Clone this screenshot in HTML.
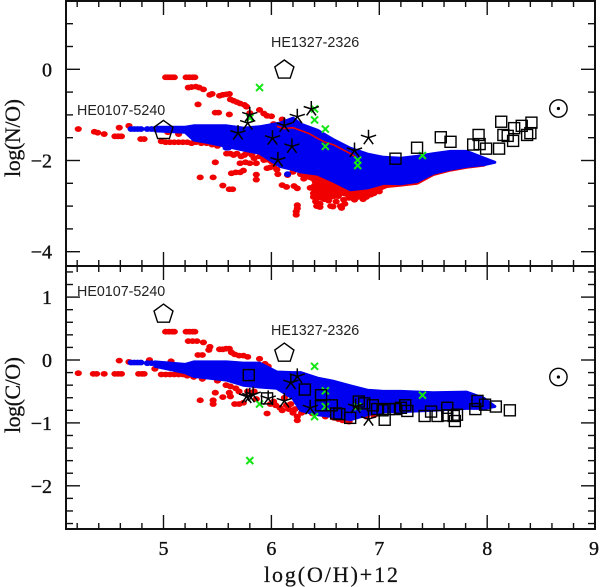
<!DOCTYPE html>
<html>
<head>
<meta charset="utf-8">
<style>
html,body{margin:0;padding:0;background:#fff;width:600px;height:587px;overflow:hidden}
svg{display:block}
.lab{font-family:"Liberation Sans",sans-serif;font-size:14.3px;fill:#222}
.tick{font-family:"Liberation Serif",serif;font-size:20px;fill:#111;stroke:#111;stroke-width:.35px}
.title{font-family:"Liberation Serif",serif;font-size:22px;fill:#111;stroke:#111;stroke-width:.25px}
</style>
</head>
<body>
<svg id="chart" width="600" height="587" viewBox="0 0 600 587" xmlns="http://www.w3.org/2000/svg">
<g id="plot"></g>
<text class="lab" x="271" y="47">HE1327-2326</text>
<text class="lab" x="77" y="115">HE0107-5240</text>
<text class="lab" x="77" y="296">HE0107-5240</text>
<text class="lab" x="271" y="335">HE1327-2326</text>
<text class="title" transform="translate(20,138) rotate(-90)" text-anchor="middle" textLength="78" lengthAdjust="spacing">log(N/O)</text>
<text class="title" transform="translate(20,395) rotate(-90)" text-anchor="middle" textLength="76" lengthAdjust="spacing">log(C/O)</text>
<text class="title" x="331" y="582" text-anchor="middle" textLength="134" lengthAdjust="spacing">log(O/H)+12</text>
</svg>
<script>
// ---- axis tick labels ----
var xTickLabels = [5, 6, 7, 8, 9];
var noTickLabels = [0, -2, -4];
var coTickLabels = [1, 0, -1, -2];

// ---- N/O panel: red model points ----
var noRed = [[5.02,-.175],[5.04,-.175],[5.06,-.175],[5.08,-.175],[5.1,-.175],[5.21,-.175],[5.24,-.175],[5.27,-.175],[5.29,-.175],
[5.23,-.4],[5.26,-.39],[5.3,-.38],[5.33,-.4],[5.37,-.44],[5.43,-.56],[5.45,-.54],[5.52,-.58],[5.55,-.56],[5.58,-.55],[5.61,-.54],
[5.62,-.66],[5.65,-.69],[5.68,-.72],[5.71,-.75],[5.75,-.78],[5.77,-.82],[5.32,-.77],[5.48,-.95],[5.51,-.95],[5.61,-.99],[5.8,-.96],[5.89,-.89],[5.93,-.97],[5.96,-1.02],[6,-1.03],
[4.21,-1.31],[4.36,-1.37],[4.39,-1.39],[4.45,-1.42],[4.59,-1.28],[4.55,-1.47],[4.58,-1.47],[4.61,-1.47],[4.68,-1.24],[4.79,-1.53],[4.82,-1.53],
[4.98,-1.58],[5.02,-1.6],[5.06,-1.6],[5.1,-1.6],[5.14,-1.6],[5.18,-1.6],[5.22,-1.6],[5.26,-1.62],[5.3,-1.6],[5.35,-1.62],[5.4,-1.62],[5.45,-1.65],[5.5,-1.68],[5.04,-1.38],[5.14,-1.42],
[5.48,-2.04],[5.34,-2.37],[5.46,-2.37],[5.55,-2.55],[5.61,-2.63],[5.64,-2.63],[5.63,-2.28],[5.67,-2.26],[5.71,-2.26],[5.74,-2.22],[5.86,-2.31],[5.86,-2.42],
[5.585,-1.85],[5.62,-1.85],[5.65,-1.88],[5.68,-1.85],[5.72,-1.91],[5.75,-1.88],[5.77,-1.84],[5.82,-1.88],[5.86,-2.06],[5.93,-1.99],[5.96,-2.17],[5.99,-2.15],[6.02,-2.13],[6.05,-2.2],[5.71,-2.06],[5.76,-2.04],[5.8,-2.06],[5.89,-1.91],[5.93,-1.9],[5.84,-1.95],[5.96,-1.98],[6,-2.02],
[6.1,-2.54],[6.14,-2.58],[6.21,-2.56],[6.24,-2.61],[6.24,-2.98],[6.24,-3.05],[6.23,-3.12],[6.23,-3.19],[6.06,-2.3],[6.15,-2.32],[6.27,-2.3],[6.2,-2.25],[6.1,-1.1],[6.06,-1.25],[6.02,-1.2],[6.3,-2.4],[6.33,-2.35],
[6.39,-2.72],[6.4,-2.64],[6.4,-2.55],[6.43,-2.62],[6.41,-2.9],[6.42,-3],[6.45,-2.95],[6.46,-2.82],[6.48,-2.72],[6.5,-2.64],[6.51,-2.79],[6.47,-2.55],[6.55,-3],[6.57,-3.01],[6.65,-3.04],[6.64,-3],[6.67,-2.86],[6.7,-2.74],[6.73,-2.72],[6.77,-2.86],[6.8,-2.8],[6.83,-2.79],[6.88,-2.8],[6.92,-2.75],[7,-2.68],
[6.39,-2.8],[6.44,-2.72],[6.45,-3.02],[6.49,-2.85],[6.53,-2.72],[6.53,-2.88],[6.58,-2.78],[6.6,-2.9],[6.62,-2.78],[6.68,-2.95],[6.72,-2.82],[6.75,-2.78],[6.78,-2.8],[6.85,-2.85],[6.95,-2.72],[6.43,-2.8],[6.36,-2.6],[6.55,-2.8]];
var noRedEnvelopeX = [6.27,6.38,6.42,6.55,6.67,6.89,7,7.07,7.2,7.35,7.5,7.66,7.81,7.97];
var noRedEnvelopeUpper = [-2.1,-2.2,-2.2,-2.3,-2.4,-2.4,-2.3,-2.3,-2.3,-2.3,-2.15,-2.1,-2.05,-2.05];
var noRedEnvelopeLower = [-2.32,-2.42,-2.62,-2.68,-2.75,-2.78,-2.64,-2.57,-2.54,-2.5,-2.31,-2.21,-2.15,-2.1];
var noRedStreak = [[6.05,-1.25],[6.12,-1.3],[6.2,-1.28],[6.27,-1.34],[6.35,-1.41],[6.43,-1.52],[6.5,-1.6],[6.58,-1.66],[6.66,-1.76],[6.74,-1.86],[6.78,-1.92]];

// ---- N/O panel: blue model band ----
var noBlue = [[4.7,-1.31],[4.73,-1.31],[4.76,-1.31],[4.79,-1.31],[4.85,-1.31],[4.89,-1.31],[5.6,-1.72],[5.58,-1.72],[6.15,-2.3]];
var noBandX = [4.92,5.2,5.28,5.4,5.585,5.74,5.89,6.08,6.2,6.27,6.43,6.58,6.73,6.89,7.04,7.2,7.35,7.5,7.66,7.81,7.97,8.07];
var noBandUpper = [-1.27,-1.27,-1.24,-1.24,-1.24,-1.29,-1.26,-1.18,-1.07,-1.2,-1.34,-1.55,-1.73,-1.86,-1.93,-1.95,-1.91,-1.85,-1.8,-1.8,-1.95,-2.04];
var noBandLower = [-1.35,-1.38,-1.55,-1.6,-1.69,-1.77,-1.84,-2.13,-2.2,-2.25,-2.3,-2.46,-2.64,-2.6,-2.5,-2.51,-2.46,-2.28,-2.19,-2.13,-2.09,-2.04];

// ---- N/O panel: observations ----
var noStars = [[5.8,-1],[5.78,-1.18],[5.69,-1.4],[6.01,-1.51],[6.06,-1.99],[6.12,-1.23],[6.19,-1.69],[6.24,-1.04],[6.37,-.87],[6.77,-1.78],[6.9,-1.5]];
var noGreen = [[5.89,-.4],[5.8,-1.07],[6.4,-.87],[6.4,-1.11],[6.5,-1.31],[6.5,-1.69],[6.8,-1.99],[6.8,-2.11],[7.4,-1.89]];
var noSquares = [[7.15,-1.96],[7.35,-1.72],[7.57,-1.49],[7.66,-1.59],[7.92,-1.44],[7.87,-1.65],[7.93,-1.64],[7.99,-1.74],[8.11,-1.74],[8.13,-1.15],[8.15,-1.44],[8.19,-1.46],[8.24,-1.57],[8.25,-1.29],[8.32,-1.24],[8.37,-1.44],[8.4,-1.4],[8.41,-1.17]];
var noPentagons = [[5,-1.34],[6.12,-.015]];
var noSolar = [8.66,-.86];

// ---- C/O panel: red model points ----
var coRed = [[5.02,.45],[5.05,.45],[5.08,.45],[5.1,.45],[5.21,.45],[5.24,.45],[5.27,.45],[5.29,.45],[5.23,.3],[5.27,.3],[5.31,.3],[5.37,.28],[5.32,.08],[5.36,.08],[5.43,.21],[5.42,.16],[5.52,.17],[5.55,.17],[5.58,.18],[5.61,.18],
[5.63,.12],[5.66,.09],[5.7,.07],[5.74,.07],[5.78,.05],[5.89,.02],[5.94,-.06],[5.97,-.1],[4.21,-.21],[4.35,-.22],[4.38,-.22],[4.45,-.22],[4.55,-.22],[4.58,-.22],[4.61,-.22],[4.77,-.22],[4.8,-.22],[4.82,-.22],[4.59,-.01],[4.68,-.03],[4.87,0],[4.92,-.14],[5.07,-.02],
[4.98,-.23],[5.02,-.23],[5.06,-.23],[5.1,-.23],[5.14,-.23],[5.18,-.23],[5.22,-.25],[5.28,-.27],[5.36,-.3],[5.5,-.33],[5.48,-.52],[5.34,-.64],[5.46,-.64],[5.46,-.7],[5.55,-.59],[5.61,-.52],[5.62,-.58],[5.58,-.4],[5.62,-.42],[5.67,-.45],[5.7,-.5],[5.66,-.7],[5.7,-.7],[5.74,-.68],[5.78,-.5],[5.84,-.5],[5.86,-.62],[5.96,-.85],[5.99,-.7],[6.04,-.72],[6.08,-.76],[6.1,-.8],[6.16,-.78],[6.2,-.84],[6.24,-.9],[6.24,-.96],[6.12,-.6],[6.18,-.7],[6.02,-.66],[6.14,-.72],[6.22,-.78],
[6.34,-.8],[6.38,-.85],[6.5,-.9],[6.58,-.92],[6.62,-.94],[6.66,-.96],[6.72,-.98],[6.28,-.84],[6.88,-.9],[6.95,-.88]];

// ---- C/O panel: blue model band ----
var coBlue = [[4.7,-.04],[4.73,-.04],[4.76,-.04],[4.79,-.04],[4.85,-.05],[4.89,-.05]];
var coBandX = [4.92,5.2,5.28,5.585,5.74,5.89,6.05,6.2,6.27,6.43,6.58,6.73,6.89,7.04,7.2,7.5,7.81,7.97,8.07];
var coBandUpper = [-.03,-.07,-.03,-.03,-.05,-.05,-.19,-.2,-.2,-.29,-.34,-.41,-.48,-.5,-.5,-.52,-.51,-.61,-.74];
var coBandLower = [-.1,-.2,-.26,-.32,-.4,-.43,-.45,-.61,-.8,-.87,-.9,-.95,-.87,-.82,-.82,-.8,-.77,-.77,-.74];

// ---- C/O panel: observations ----
var coStars = [[5.8,-.57],[5.77,-.58],[5.83,-.55],[5.97,-.61],[6.12,-.65],[6.18,-.36],[6.24,-.26],[6.36,-.76],[6.78,-.74],[6.9,-.94]];
var coGreen = [[6.4,-.1],[6.5,-.49],[6.5,-.74],[6.4,-.9],[5.89,-.7],[5.8,-1.6],[6.8,-.74],[7.4,-.56]];
var coSquares = [[5.79,-.24],[5.96,-.61],[6.31,-.47],[6.46,-.56],[6.46,-.72],[6.56,-.72],[6.6,-.85],[6.63,-.86],[6.73,-.92],[6.81,-.66],[6.86,-.69],[6.94,-.72],[6.98,-.78],[7.03,-.8],[7.05,-.95],[7.09,-.78],[7.15,-.78],[7.2,-.76],[7.24,-.72],[7.26,-.81],[7.42,-.89],[7.48,-.82],[7.54,-.89],[7.63,-.76],[7.63,-.88],[7.69,-.89],[7.72,-.87],[7.7,-.97],[7.89,-.78],[7.91,-.65],[7.98,-.71],[8.08,-.74],[8.21,-.8]];
var coPentagons = [[5,.73],[6.12,.11]];
var coSolar = [8.66,-.27];

var NS = 'http://www.w3.org/2000/svg';
var plot = document.getElementById('plot');
function xAxis(v){ return 163.5 + (v - 5) * 107.9; }
function yNO(v){ return 69.3 - v * 45.6; }
function yCO(v){ return 360 - v * 62.9; }

function make(tag, attrs, parent){
  var el = document.createElementNS(NS, tag);
  for (var k in attrs) el.setAttribute(k, attrs[k]);
  (parent || plot).appendChild(el);
  return el;
}
function bandPath(xs, up, low, y){
  var p = [], i;
  for (i = 0; i < xs.length; i++) p.push(xAxis(xs[i]).toFixed(1) + ',' + y(up[i]).toFixed(1));
  for (i = xs.length - 1; i >= 0; i--) p.push(xAxis(xs[i]).toFixed(1) + ',' + y(low[i]).toFixed(1));
  return p.join(' ');
}
function dots(list, y, color, name){
  list.forEach(function(d){
    var el = make('ellipse', {cx: xAxis(d[0]), cy: y(d[1]), rx: 3.6, ry: 2.9, fill: color});
    
    
  });
}
function band(xs, up, low, y, color, name){
  var el = make('polygon', {points: bandPath(xs, up, low, y), fill: color, stroke: color, 'stroke-width': 3, 'stroke-linejoin': 'round'});
  
  
}
function stars(list, y){
  list.forEach(function(d){
    var cx = xAxis(d[0]), cy = y(d[1]), s = '';
    for (var i = 0; i < 5; i++){
      var a = -Math.PI / 2 + i * 2 * Math.PI / 5;
      s += 'M' + cx.toFixed(1) + ' ' + cy.toFixed(1) + 'L' + (cx + 8 * Math.cos(a)).toFixed(1) + ' ' + (cy + 8 * Math.sin(a)).toFixed(1);
    }
    var el = make('path', {d: s, stroke: '#000', 'stroke-width': 1.5, fill: 'none'});
    
    
  });
}
function squares(list, y){
  list.forEach(function(d){
    var el = make('rect', {x: xAxis(d[0]) - 5.5, y: y(d[1]) - 5.5, width: 11, height: 11, fill: 'none', stroke: '#000', 'stroke-width': 1.4});
    
    
  });
}
function crosses(list, y){
  list.forEach(function(d){
    var cx = xAxis(d[0]), cy = y(d[1]), r = 3.5;
    var el = make('path', {d: 'M' + (cx - r) + ' ' + (cy - r) + 'L' + (cx + r) + ' ' + (cy + r) + 'M' + (cx - r) + ' ' + (cy + r) + 'L' + (cx + r) + ' ' + (cy - r), stroke: '#14e614', 'stroke-width': 2, fill: 'none'});
    
    
  });
}
function pentagons(list, y){
  list.forEach(function(d){
    var cx = xAxis(d[0]), cy = y(d[1]), pts = [];
    for (var i = 0; i < 5; i++){
      var a = -Math.PI / 2 + i * 2 * Math.PI / 5;
      pts.push((cx + 10 * Math.cos(a)).toFixed(1) + ',' + (cy + 10 * Math.sin(a)).toFixed(1));
    }
    var el = make('polygon', {points: pts.join(' '), fill: 'none', stroke: '#000', 'stroke-width': 1.4});
    
    
  });
}
function solar(d, y){
  var ring = make('circle', {cx: xAxis(d[0]), cy: y(d[1]), r: 8.7, fill: 'none', stroke: '#000', 'stroke-width': 1.4});
  
  
  var dot = make('circle', {cx: xAxis(d[0]), cy: y(d[1]), r: 1.6, fill: '#000'});
  
  
}

// N/O panel marks
band(noRedEnvelopeX, noRedEnvelopeUpper, noRedEnvelopeLower, yNO, '#f00000', 'no-red-envelope');
dots(noRed, yNO, '#f00000', 'no-red-point');
band(noBandX, noBandUpper, noBandLower, yNO, '#0000f0', 'no-blue-band');
dots(noBlue, yNO, '#0000f0', 'no-blue-point');
var streakEl = make('polyline', {points: noRedStreak.map(function(d){ return xAxis(d[0]).toFixed(1) + ',' + yNO(d[1]).toFixed(1); }).join(' '), fill: 'none', stroke: '#f00000', 'stroke-width': 1.6});


crosses(noGreen, yNO);
stars(noStars, yNO);
squares(noSquares, yNO);
pentagons(noPentagons, yNO);
solar(noSolar, yNO);

// C/O panel marks
dots(coRed, yCO, '#f00000', 'co-red-point');
band(coBandX, coBandUpper, coBandLower, yCO, '#0000f0', 'co-blue-band');
dots(coBlue, yCO, '#0000f0', 'co-blue-point');
crosses(coGreen, yCO);
stars(coStars, yCO);
squares(coSquares, yCO);
pentagons(coPentagons, yCO);
solar(coSolar, yCO);

// Axes
var L = 66, R = 595, T1 = 1, B1 = 266, B2 = 529;
function tick(x1, y1, x2, y2, name){
  var el = make('line', {x1: x1, y1: y1, x2: x2, y2: y2, stroke: '#111', 'stroke-width': 1.4});
  
  
}
[[T1, B1, 'top-panel-frame'], [B1, B2, 'bottom-panel-frame']].forEach(function(p){
  var el = make('rect', {x: L, y: p[0], width: R - L, height: p[1] - p[0], fill: 'none', stroke: '#111', 'stroke-width': 2});
  
  
});
for (var i = 0; i <= 24; i++){
  var v = 4.2 + i * 0.2, xp = xAxis(v), major = xTickLabels.indexOf(Math.round(v * 10) / 10) >= 0, len = major ? 14 : 6;
  if (v > 8.9) continue;
  tick(xp, T1, xp, T1 + len, 'x-tick');
  tick(xp, B1, xp, B1 - len, 'x-tick');
  tick(xp, B1, xp, B1 + len, 'x-tick');
  tick(xp, B2, xp, B2 - len, 'x-tick');
}
for (var j = 0; j <= 10; j++){
  var nv = 1 - j * 0.5, ny = yNO(nv), nl = noTickLabels.indexOf(nv) >= 0 ? 14 : 7;
  tick(L, ny, L + nl, ny, 'no-y-tick');
  tick(R, ny, R - nl, ny, 'no-y-tick');
}
for (var k = 0; k <= 20; k++){
  var cv = Math.round((1.4 - k * 0.2) * 10) / 10, cy = yCO(cv), cl = coTickLabels.indexOf(cv) >= 0 ? 14 : 7;
  tick(L, cy, L + cl, cy, 'co-y-tick');
  tick(R, cy, R - cl, cy, 'co-y-tick');
}
function label(x, y, txt, anchor, name){
  var el = make('text', {x: x, y: y, 'text-anchor': anchor, 'class': 'tick'});
  el.textContent = txt;
  
  
}
xTickLabels.forEach(function(v){
  label(Math.min(xAxis(v), 594), 555, String(v), 'middle', 'x-tick-label');
});
noTickLabels.forEach(function(v){
  label(52, yNO(v) + 7, String(v).replace('-', '\u2212'), 'end', 'no-y-tick-label');
});
coTickLabels.forEach(function(v){
  label(52, yCO(v) + 7, String(v).replace('-', '\u2212'), 'end', 'co-y-tick-label');
});
</script>
</body>
</html>
